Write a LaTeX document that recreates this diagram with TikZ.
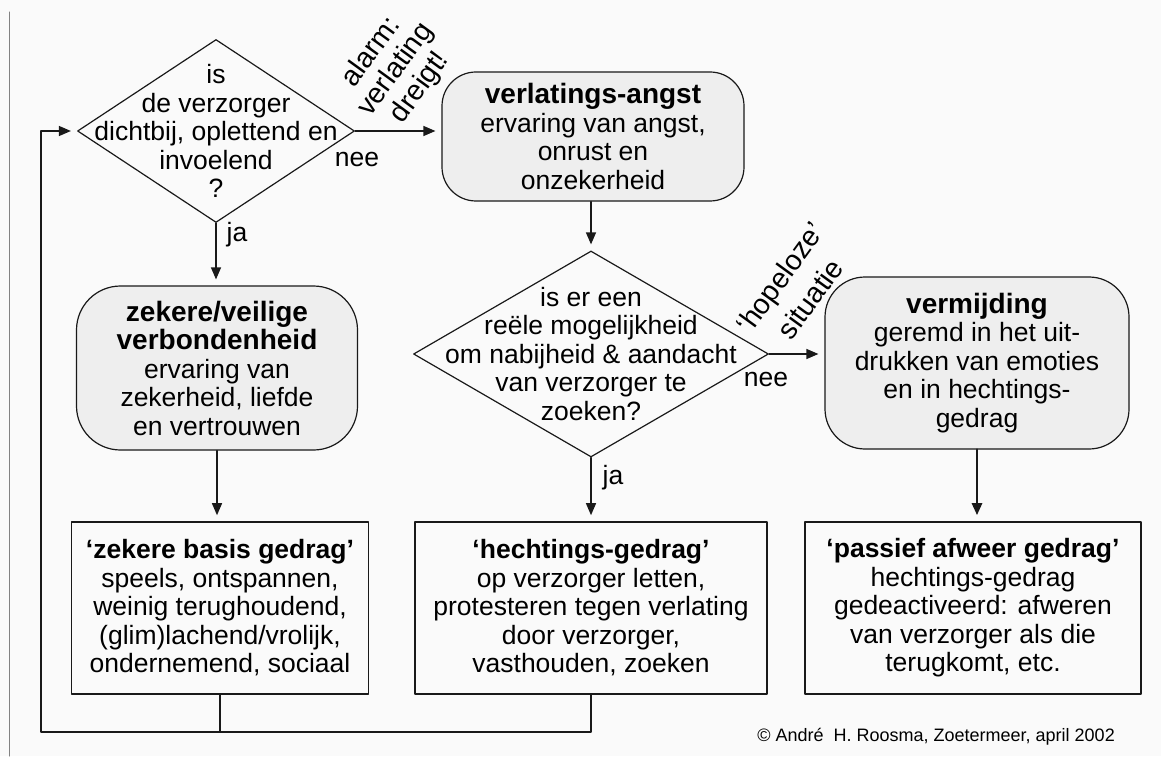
\documentclass[tikz,border=0pt]{standalone}
\usepackage{fontspec}
\setmainfont{Liberation Sans}
\usetikzlibrary{positioning,shapes.geometric,arrows.meta}

\definecolor{achtergrond}{RGB}{250,250,250}
\definecolor{vlak}{RGB}{238,238,238}
\definecolor{inkt}{RGB}{25,25,25}
\definecolor{rand}{RGB}{130,130,130}

\newcommand\tekst{\fontsize{26.5}{28.5}\selectfont}
\newcommand\kop{\bfseries\fontsize{28}{31}\selectfont}
\newcommand\kopklein{\bfseries\fontsize{26.5}{29}\selectfont}

\begin{document}
\begin{tikzpicture}[x=1pt,y=-1pt,line cap=round,line join=round,draw=inkt,
  lijn/.style={draw=inkt,line width=1.3pt},
  pijl/.style={lijn,-{Triangle[length=12pt,width=10pt]},shorten >=6pt},
  staat/.style={draw=inkt,line width=1.2pt,fill=vlak,rounded corners=34pt,align=center,
    font=\tekst,inner sep=0pt,minimum height=#1},
  gedrag/.style={draw=inkt,line width=1.6pt,fill=achtergrond,align=center,font=\tekst,
    inner sep=0pt,minimum height=172pt},
  vraag/.style={draw=inkt,diamond,line width=1.2pt,fill=achtergrond,inner sep=0pt},
  bijschrift/.style={font=\tekst,inner sep=0pt},
  schuin/.style={inner sep=0pt,rotate=54,align=center}]

% background and page edge
\fill[achtergrond] (0,0) rectangle (1161,756);
\draw[rand,line width=1pt] (9,12) -- (9,756);

% questions
\node[vraag,minimum width=277pt,minimum height=183pt] (vraag1) at (216,131) {};
\node[bijschrift,align=center] (vraag1tekst) at (vraag1)
  {is\\de verzorger\\dichtbij, oplettend en\\invoelend\\?};
\node[vraag,minimum width=355pt,minimum height=206pt] (vraag2) at (591,354) {};
\node[bijschrift,align=center] (vraag2tekst) at (vraag2)
  {is er een\\reële mogelijkheid\\om nabijheid \& aandacht\\van verzorger te\\zoeken?};

% states (rounded)
\node[staat=129pt,minimum width=302pt] (angst) at (593,136.5)
  {{\kop verlatings-angst}\\ervaring van angst,\\onrust en\\onzekerheid};
\node[staat=164pt,minimum width=281pt,rounded corners=44pt] (zeker) at (217,368)
  {{\kop zekere/veilige}\\{\kop verbondenheid}\\ervaring van\\zekerheid, liefde\\en vertrouwen};
\node[staat=172pt,minimum width=304pt,rounded corners=40pt] (vermijding) at (977,363)
  {{\kop vermijding}\\geremd in het uit-\\drukken van emoties\\en in hechtings-\\gedrag};

% behaviour boxes
\node[gedrag,minimum width=297pt] (gedragA) at (220,608)
  {{\kopklein `zekere basis gedrag'}\\speels, ontspannen,\\weinig terughoudend,\\(glim)lachend/vrolijk,\\ondernemend, sociaal};
\node[gedrag,minimum width=352pt] (gedragB) at (591,608)
  {{\kopklein `hechtings-gedrag'}\\op verzorger letten,\\protesteren tegen verlating\\door verzorger,\\vasthouden, zoeken};
\node[gedrag,minimum width=336pt] (gedragC) at (973,608)
  {{\kopklein `passief afweer gedrag'}\\hechtings-gedrag\\gedeactiveerd: afweren\\van verzorger als die\\terugkomt, etc.};

% arrows
\draw[pijl] (vraag1.east) -- (angst.west |- vraag1.east);
\draw[pijl] (vraag1.south) -- (vraag1.south |- zeker.north);
\draw[pijl] (vraag2.north |- angst.south) -- (vraag2.north);
\draw[pijl] (vraag2.east) -- (vermijding.west |- vraag2.east);
\draw[pijl] (zeker.south) -- (zeker.south |- gedragA.north);
\draw[pijl] (vraag2.south) -- (vraag2.south |- gedragB.north);
\draw[pijl,line width=2.6pt] (vermijding.south) -- (vermijding.south |- gedragC.north);

% feedback loop
\coordinate (lus) at (41,732);
\draw[lijn] (gedragA.south) -- (gedragA.south |- lus);
\draw[pijl] (gedragB.south) |- (lus) -- (lus |- vraag1.west) -- (vraag1.west);

% arrow labels
\node[bijschrift] (ja1) at (237,235) {ja};
\node[bijschrift] (nee1) at (357,160) {nee};
\node[bijschrift] (ja2) at (613,478) {ja};
\node[bijschrift] (nee2) at (766,379) {nee};
\node[schuin,font=\fontsize{28.5}{30}\selectfont] (alarm) at (396,70)
  {alarm:\\verlating\\dreigt!};
\node[schuin,font=\fontsize{28.5}{37}\selectfont] (hopeloos) at (795,288)
  {`hopeloze'\\situatie};

% credit
\node[anchor=east,inner sep=0pt,font=\fontsize{18}{20}\selectfont] (bron) at (1115,737)
  {© André\ \ H. Roosma, Zoetermeer, april 2002};

\end{tikzpicture}
\end{document}
